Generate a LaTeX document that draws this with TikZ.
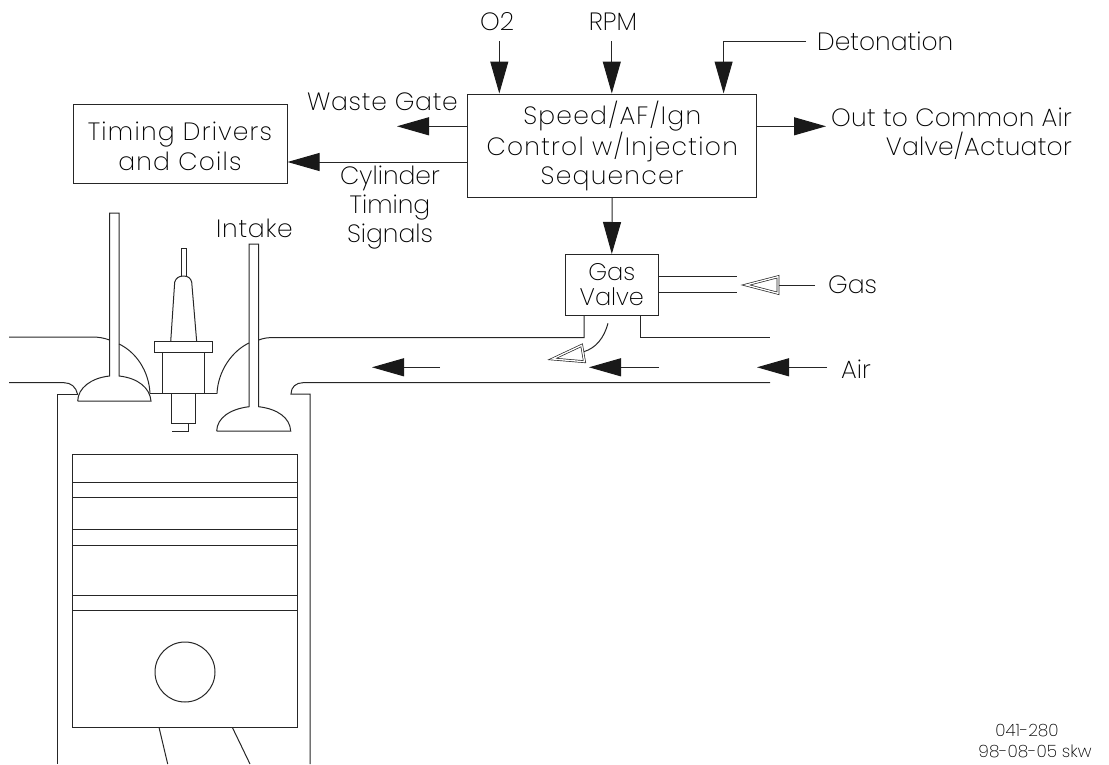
\documentclass[tikz,border=0pt]{standalone}
\usepackage{fontspec}
\setmainfont{Poppins ExtraLight}
\usetikzlibrary{arrows.meta}
\tikzset{
  px/.style={x=1pt,y=-1pt},
  ln/.style={line width=1pt,black!85,line cap=butt,line join=miter},
  sig/.style={ln,-{Triangle[length=32pt,width=18pt,black!90]}},
  hollow/.style={line width=.7pt,double=white,double distance=1.3pt,black!85,line join=miter},
  lab/.style={font=\fontsize{25}{29}\selectfont,inner sep=0pt,align=center,text=black},
  smalllab/.style={font=\fontsize{17}{21}\selectfont,inner sep=0pt,align=center,text=black},
  boxn/.style={draw,ln,inner sep=0pt,align=center,text=black,font=\fontsize{25}{29.5}\selectfont\addfontfeature{LetterSpace=5}}
}
\begin{document}
\begin{tikzpicture}[px]
\useasboundingbox (0,0) rectangle (1109,764);
% blocks
\node[boxn,minimum width=289.5pt,minimum height=103pt] (ctrl) at (612.2,145.5) {\rule{0pt}{24pt}Speed/AF/Ign\\Control w/Injection\\Sequencer};
\node[boxn,minimum width=214pt,minimum height=79pt] (drv) at (180,143.5) {\rule{0pt}{24pt}Timing Drivers\\and Coils};
\node[boxn,minimum width=93.5pt,minimum height=61pt,font=\fontsize{24}{25}\selectfont] (gv) at (611.8,285) {Gas\\Valve};
% labels
\node[lab] (lo2) at (497,22) {O2};
\node[lab] (lrpm) at (613,22) {RPM};
\node[lab,anchor=west] (ldet) at (817,41) {Detonation};
\node[lab,anchor=east,font=\fontsize{25}{29}\selectfont\addfontfeature{LetterSpace=3}] (lwg) at (458,102) {Waste Gate};
\node[lab,anchor=east,align=right,font=\fontsize{25}{28.5}\selectfont\addfontfeature{LetterSpace=1}] (lout) at (1072,133.5) {Out to Common Air\\Valve/Actuator};
\node[lab] (lcyl) at (390,208) {Cylinder\\Timing\\Signals};
\node[lab,font=\fontsize{25}{29}\selectfont\addfontfeature{LetterSpace=3}] (lint) at (254.5,228) {Intake};
\node[lab,anchor=west] (lgas) at (828,285) {Gas};
\node[lab,anchor=west] (lair) at (841,369) {Air};
\node[smalllab] (lnum) at (1027,730.5) {041-280};
\node[smalllab] (ldate) at (1035,751.5) {98-08-05 skw};
% control inputs and outputs
\coordinate (o2s) at (499.3,41);
\coordinate (rpms) at (611.8,41);
\coordinate (dets) at (723.6,41);
\coordinate (wgt) at (397,126.3);
\coordinate (outt) at (826,126.3);
\draw[sig] (o2s) -- (o2s |- ctrl.north);
\draw[sig] (rpms) -- (rpms |- ctrl.north);
\draw[sig] (ldet.west -| 806,0) -- (dets) -- (dets |- ctrl.north);
\draw[sig] (wgt -| ctrl.west) -- (wgt);
\draw[sig] (outt -| ctrl.east) -- (outt);
\draw[sig] (ctrl.west |- 0,162) -- (drv.east |- 0,162);
\draw[sig] (ctrl.south) -- (gv.north);
% gas feed
\coordinate (gp1) at (737,276.7);
\coordinate (gp2) at (737,292.7);
\draw[ln] (gv.east |- gp1) -- (gp1);
\draw[ln] (gv.east |- gp2) -- (gp2);
\coordinate (gbase) at (778,285);
\draw[ln] (815,285) -- (gbase);
\draw[hollow] (746,285) -- (778,276.7) -- (778,293.3) -- cycle;
% intake manifold
\coordinate (nl) at (584,337.5);
\coordinate (nr) at (640,337.5);
\draw[ln] (gv.south -| nl) -- (nl) -- (275,337.5) .. controls (268,337.5) and (264,338) .. (258.7,340);
\draw[ln] (gv.south -| nr) -- (nr) -- (770,337.5);
\draw[ln] (770,382.7) -- (303,382.7) .. controls (296,382.7) and (291,387) .. (291,394) -- (310,394) -- (310,764);
% exhaust port
\draw[ln] (9,337) -- (92,337) .. controls (99,337) and (104,338) .. (109.5,340);
\draw[ln] (9,382.7) -- (64,382.7) .. controls (71,382.7) and (76,387) .. (77.5,394);
\draw[ln] (77.5,394) -- (57,394) -- (57,764);
\draw[ln] (119,344) .. controls (136,352) and (149,371) .. (150,393.5);
\draw[line width=1.8pt,black!85] (150,393.5) -- (217,393.5);
\draw[ln] (249,343) .. controls (232,351) and (218,371) .. (217,393.5);
% air flow arrows
\draw[sig] (440,367.3) -- (372,367.3);
\draw[sig] (659,367.3) -- (589,367.3);
\draw[sig] (827,367.3) -- (757,367.3);
% gas injection arrow
\draw[ln] (608,323.3) .. controls (604,338) and (596,348) .. (583.8,351.7);
\draw[hollow] (552.5,359) -- (581.7,345.3) -- (584.5,361.7) -- cycle;
% exhaust valve
\draw[ln] (77.7,401) -- (151,401) .. controls (150,388) and (138,378) .. (119,376) -- (119,213) -- (109.5,213) -- (109.5,376) .. controls (91,378) and (78,388) .. (77.7,401);
% intake valve
\draw[ln] (216.7,431) -- (290.7,431) .. controls (290,418) and (278,409) .. (258.7,406.7) -- (258.7,244) -- (249,244) -- (249,406.7) .. controls (230,409) and (217,418) .. (216.7,431);
% spark plug
\draw[ln] (181,276) -- (181,248) -- (186,248) -- (186,276);
\draw[ln] (170.7,341.7) -- (174.7,282) .. controls (176,278) and (179,276) .. (183.5,276) .. controls (188,276) and (190.5,278) .. (191.7,282) -- (196.7,341.7);
\draw[ln] (154.7,341.7) rectangle (212.3,352.7);
\draw[ln] (162.3,352.7) -- (162.3,393) (204.3,352.7) -- (204.3,393);
\draw[ln] (171.7,393) -- (171.7,423.3) -- (195.7,423.3) -- (195.7,393);
\draw[ln] (188.3,423.3) -- (188.3,431.3) -- (172.3,431.3);
% piston
\draw[ln] (72.7,454) rectangle (297,727.3);
\foreach \yy in {482,497.3,529.7,545.3,595,610.3} \draw[ln] (72.7,\yy) -- (297,\yy);
\draw[ln] (185,672) circle (30);
\draw[ln] (159,727.3) -- (167.7,764);
\draw[ln] (232.3,727.3) -- (250,764);
\end{tikzpicture}
\end{document}
